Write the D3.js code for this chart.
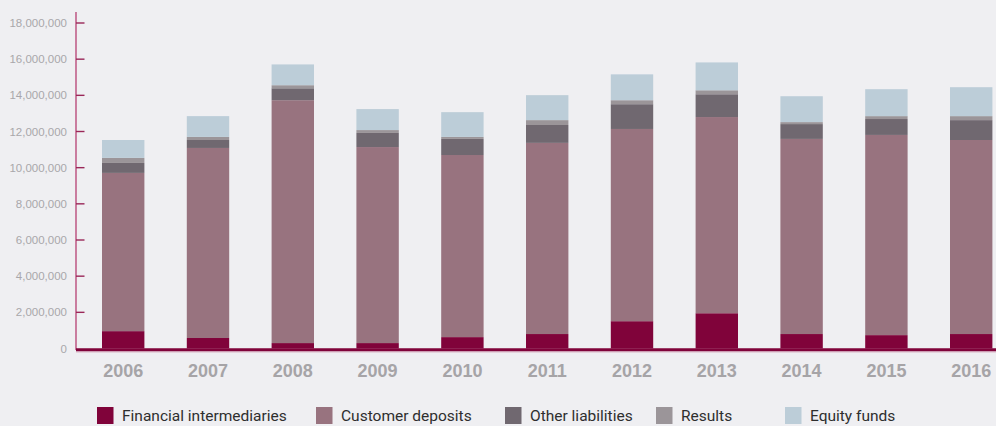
<!DOCTYPE html>
<html><head><meta charset="utf-8">
<script src="https://cdn.jsdelivr.net/npm/d3@7"></script>
<style>
html,body{margin:0;padding:0;background:#efeff2;}
svg{display:block;}
</style></head>
<body>
<svg id="c" width="996" height="426"></svg>
<script>
const years = ["2006","2007","2008","2009","2010","2011","2012","2013","2014","2015","2016"];
const seriesNames = ["Financial intermediaries","Customer deposits","Other liabilities","Results","Equity funds"];
const seriesColors = ["#80033a","#98737f","#706870","#9b9599","#bccdd8"];
const financialIntermediaries = [960000,580000,300000,300000,630000,800000,1510000,1950000,800000,740000,800000];
const customerDeposits = [8750000,10510000,13430000,10840000,10070000,10570000,10630000,10850000,10790000,11070000,10730000];
const otherLiabilities = [550000,440000,660000,780000,890000,990000,1370000,1260000,820000,880000,1100000];
const results = [280000,170000,170000,160000,110000,270000,220000,220000,110000,160000,220000];
const equityFunds = [990000,1150000,1150000,1160000,1370000,1380000,1430000,1540000,1430000,1490000,1600000];
const yTicks = [0,2000000,4000000,6000000,8000000,10000000,12000000,14000000,16000000,18000000];

const seriesData = [financialIntermediaries,customerDeposits,otherLiabilities,results,equityFunds];
const rows = years.map((y,i)=>{const r={year:y}; seriesNames.forEach((n,k)=>r[n]=seriesData[k][i]); return r;});
const stack = d3.stack().keys(seriesNames)(rows);

const svg = d3.select("#c");
const x = d3.scaleBand().domain(years).range([80.8,1013.6]).paddingInner(0.5).paddingOuter(0.25);
const y = d3.scaleLinear().domain([0,18000000]).range([348.5,23]);

// bars
svg.append("g").selectAll("g").data(stack).join("g")
  .attr("fill",(d,i)=>seriesColors[i])
  .selectAll("rect").data(d=>d).join("rect")
  .attr("x",d=>x(d.data.year))
  .attr("width",x.bandwidth())
  .attr("y",d=>y(d[1]))
  .attr("height",d=>y(d[0])-y(d[1]));

// y axis
const ya = svg.append("g");
ya.append("line").attr("x1",76).attr("x2",76).attr("y1",12).attr("y2",350)
  .attr("stroke","#c0608a").attr("stroke-width",1.6);
ya.selectAll("line.t").data(yTicks.filter(t=>t>0)).join("line").attr("class","t")
  .attr("x1",76).attr("x2",84.5).attr("y1",d=>y(d)).attr("y2",d=>y(d))
  .attr("stroke","#9a2758").attr("stroke-width",1.4);
const fmt = d3.format(",");
ya.selectAll("text").data(yTicks).join("text")
  .attr("x",67).attr("y",d=>y(d)).attr("dy","0.35em")
  .attr("text-anchor","end")
  .attr("font-family","Liberation Sans, Arial, sans-serif")
  .attr("font-size","11.5px").attr("fill","#a9a7aa")
  .text(d=>fmt(d));

// baseline
svg.append("line").attr("x1",76).attr("x2",996).attr("y1",352).attr("y2",352)
  .attr("stroke","#dcb5c6").attr("stroke-width",1);
svg.append("line").attr("x1",76).attr("x2",996).attr("y1",349.8).attr("y2",349.8)
  .attr("stroke","#80033a").attr("stroke-width",3);

// x labels
svg.append("g").selectAll("text").data(years).join("text")
  .attr("x",d=>x(d)+x.bandwidth()/2).attr("y",377)
  .attr("text-anchor","middle")
  .attr("font-family","Liberation Sans, Arial, sans-serif")
  .attr("font-weight","bold").attr("font-size","18px").attr("fill","#a6a4a7")
  .text(d=>d);

// legend
const legX = [97,316,505,656,785];
const lg = svg.append("g").selectAll("g").data(seriesNames).join("g")
  .attr("transform",(d,i)=>`translate(${legX[i]},407)`);
lg.append("rect").attr("width",16.5).attr("height",17).attr("fill",(d,i)=>seriesColors[i]);
lg.append("text").attr("x",25).attr("y",14)
  .attr("font-family","Roboto, sans-serif").attr("font-size","15.5px").attr("fill","#2e2e2e")
  .text(d=>d);
</script>
</body></html>
